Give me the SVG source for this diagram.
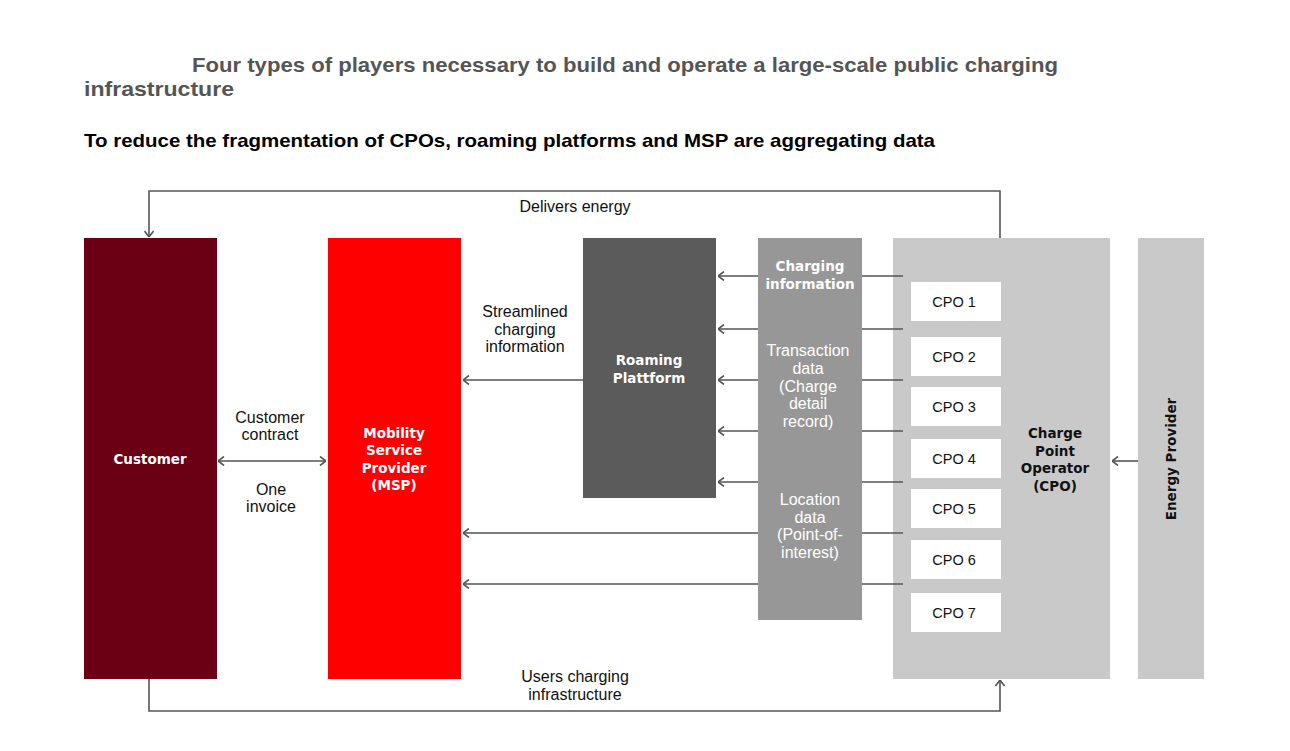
<svg xmlns="http://www.w3.org/2000/svg" width="1290" height="751" viewBox="0 0 1290 751">
<style>
.t{font-family:"Liberation Sans",Arial,sans-serif;font-size:16px;fill:#111;text-anchor:middle}
.bw{font-family:"DejaVu Sans",Verdana,sans-serif;font-weight:bold;font-size:13.5px;fill:#fff;text-anchor:middle}
.bk{font-family:"DejaVu Sans",Verdana,sans-serif;font-weight:bold;font-size:13.5px;fill:#111;text-anchor:middle}
.ww{font-family:"Liberation Sans",Arial,sans-serif;font-size:16px;fill:#fff;text-anchor:middle}
.cpo{font-family:"Liberation Sans",Arial,sans-serif;font-size:14.5px;fill:#111;text-anchor:middle}
.c{fill:none;stroke:#555;stroke-width:1.6}
</style>
<defs>
<marker id="ah" viewBox="0 0 10 10" refX="10" refY="5" markerWidth="10" markerHeight="10" markerUnits="userSpaceOnUse" orient="auto-start-reverse">
<path d="M4,0.5 L10,5 L4,9.5" fill="none" stroke="#555" stroke-width="1.6"/>
</marker>
</defs>
<rect width="1290" height="751" fill="#fff"/>
<g id="title">
<text x="192" y="72" font-family="Liberation Sans,Arial,sans-serif" font-weight="bold" font-size="21" fill="#555" textLength="866" lengthAdjust="spacingAndGlyphs">Four types of players necessary to build and operate a large-scale public charging</text>
<text x="84" y="96" font-family="Liberation Sans,Arial,sans-serif" font-weight="bold" font-size="21" fill="#555" textLength="150" lengthAdjust="spacingAndGlyphs">infrastructure</text>
<text x="84" y="147" font-family="Liberation Sans,Arial,sans-serif" font-weight="bold" font-size="18.5" fill="#000" textLength="851" lengthAdjust="spacingAndGlyphs">To reduce the fragmentation of CPOs, roaming platforms and MSP are aggregating data</text>
</g>
<g id="customer">
<rect x="84" y="238" width="133" height="441" fill="#6b0014"/>
<text class="bw" x="150" y="464">Customer</text>
</g>
<g id="msp">
<rect x="328" y="238" width="133" height="441" fill="#ff0000"/>
<text class="bw" x="394" y="438">Mobility</text>
<text class="bw" x="394" y="455">Service</text>
<text class="bw" x="394" y="473">Provider</text>
<text class="bw" x="394" y="490">(MSP)</text>
</g>
<g id="roaming">
<rect x="583" y="238" width="133" height="260" fill="#5b5b5b"/>
<text class="bw" x="649" y="365">Roaming</text>
<text class="bw" x="649" y="383">Plattform</text>
</g>
<g id="data">
<rect x="758" y="238" width="104" height="382" fill="#979797"/>
<text class="bw" x="810" y="271">Charging</text>
<text class="bw" x="810" y="289">information</text>
<text class="ww" x="808" y="356">Transaction</text>
<text class="ww" x="808" y="374">data</text>
<text class="ww" x="808" y="392">(Charge</text>
<text class="ww" x="808" y="409">detail</text>
<text class="ww" x="808" y="427">record)</text>
<text class="ww" x="810" y="505">Location</text>
<text class="ww" x="810" y="523">data</text>
<text class="ww" x="810" y="540">(Point-of-</text>
<text class="ww" x="810" y="558">interest)</text>
</g>
<g id="cpo">
<rect x="893" y="238" width="217" height="441" fill="#c9c9c9"/>
<text class="bk" x="1055" y="438">Charge</text>
<text class="bk" x="1055" y="456">Point</text>
<text class="bk" x="1055" y="473">Operator</text>
<text class="bk" x="1055" y="491">(CPO)</text>
</g>
<g id="cpo1"><rect x="911" y="282" width="90" height="39" fill="#fff"/><text class="cpo" x="954" y="307">CPO 1</text></g>
<g id="cpo2"><rect x="911" y="337" width="90" height="39" fill="#fff"/><text class="cpo" x="954" y="362">CPO 2</text></g>
<g id="cpo3"><rect x="911" y="387" width="90" height="39" fill="#fff"/><text class="cpo" x="954" y="412">CPO 3</text></g>
<g id="cpo4"><rect x="911" y="439" width="90" height="39" fill="#fff"/><text class="cpo" x="954" y="464">CPO 4</text></g>
<g id="cpo5"><rect x="911" y="489" width="90" height="39" fill="#fff"/><text class="cpo" x="954" y="514">CPO 5</text></g>
<g id="cpo6"><rect x="911" y="540" width="90" height="39" fill="#fff"/><text class="cpo" x="954" y="565">CPO 6</text></g>
<g id="cpo7"><rect x="911" y="593" width="90" height="39" fill="#fff"/><text class="cpo" x="954" y="618">CPO 7</text></g>
<g id="energy">
<rect x="1138" y="238" width="66" height="441" fill="#c9c9c9"/>
<text class="bk" x="0" y="0" transform="translate(1176,459) rotate(-90)">Energy Provider</text>
</g>
<g id="connectors">
<path class="c" d="M1000,238 V191 H149 V237" marker-end="url(#ah)"/>
<path class="c" d="M149,679 V711 H1000 V680" marker-end="url(#ah)"/>
<path class="c" d="M218,461 H326" marker-start="url(#ah)" marker-end="url(#ah)"/>
<path class="c" d="M583,380 H463" marker-end="url(#ah)"/>
<path class="c" d="M1138,461 H1112" marker-end="url(#ah)"/>
<path class="c" d="M903,276 H862 M758,276 H718" marker-end="url(#ah)"/>
<path class="c" d="M903,329 H862 M758,329 H718" marker-end="url(#ah)"/>
<path class="c" d="M903,380 H862 M758,380 H718" marker-end="url(#ah)"/>
<path class="c" d="M903,431 H862 M758,431 H718" marker-end="url(#ah)"/>
<path class="c" d="M903,482 H862 M758,482 H718" marker-end="url(#ah)"/>
<path class="c" d="M903,533 H862 M758,533 H463" marker-end="url(#ah)"/>
<path class="c" d="M903,584 H862 M758,584 H463" marker-end="url(#ah)"/>
</g>
<g id="labels">
<text class="t" x="575" y="212">Delivers energy</text>
<text class="t" x="525" y="317">Streamlined</text>
<text class="t" x="525" y="335">charging</text>
<text class="t" x="525" y="352">information</text>
<text class="t" x="270" y="423">Customer</text>
<text class="t" x="270" y="440">contract</text>
<text class="t" x="271" y="495">One</text>
<text class="t" x="271" y="512">invoice</text>
<text class="t" x="575" y="682">Users charging</text>
<text class="t" x="575" y="700">infrastructure</text>
</g>
</svg>
